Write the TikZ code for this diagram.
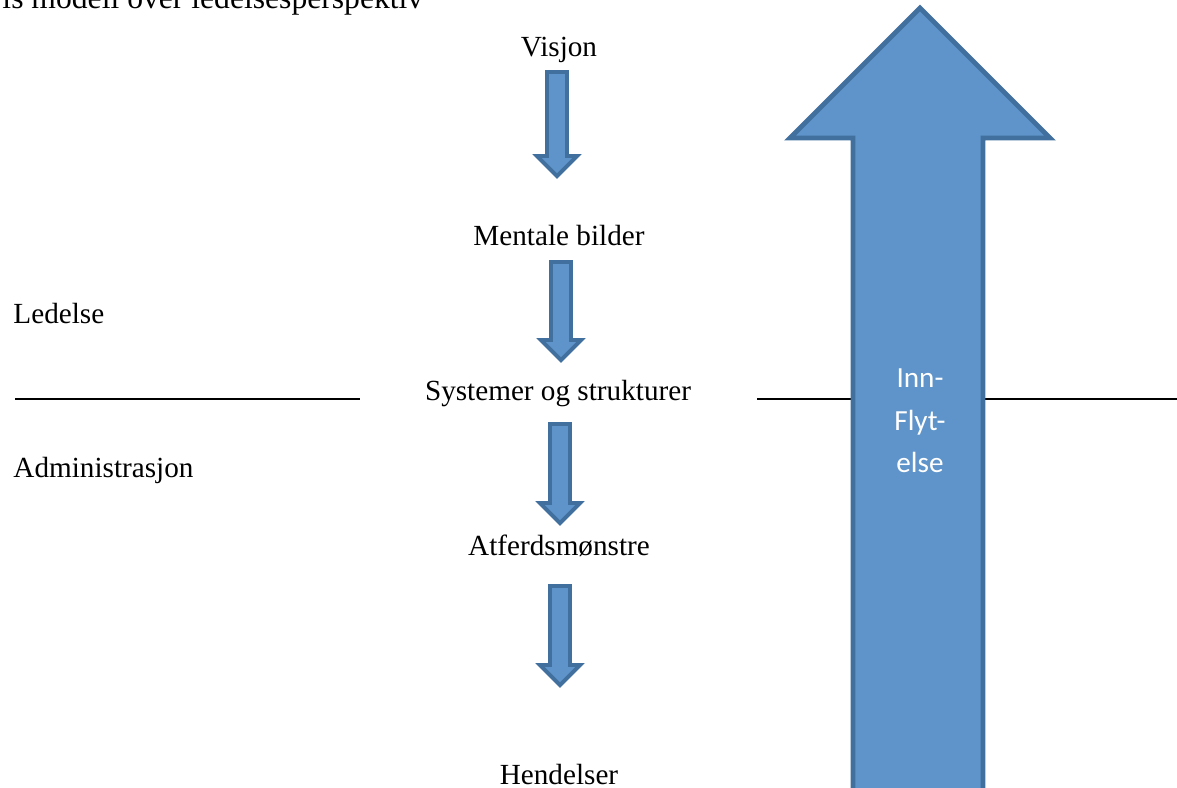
\documentclass[tikz,border=0pt]{standalone}
\usepackage{fontspec}
\setmainfont{Liberation Serif}
\newfontfamily\calfont{Carlito}
\usetikzlibrary{positioning}

\definecolor{arrowfill}{RGB}{94,148,202}
\definecolor{arrowline}{RGB}{65,112,159}

\tikzset{
  lbl/.style={font=\fontsize{12}{14}\selectfont, inner sep=0pt, anchor=base},
  blockarrow/.style={fill=arrowfill, draw=arrowline, line width=1.6pt, line join=miter},
  divider/.style={line width=0.8pt, black}
}

% block arrow pointing down: x, top, tip
\newcommand{\blockdown}[3]{%
  \draw[blockarrow] (#1-10,#2) -- (#1+10,#2) -- (#1+10,#3-20) -- (#1+20,#3-20)
        -- (#1,#3) -- (#1-20,#3-20) -- (#1-10,#3-20) -- cycle;}

\begin{document}
\begin{tikzpicture}[x=0.411pt, y=-0.411pt]
        \useasboundingbox (0,0) rectangle (1177,787);

        \coordinate (L1) at (15,399);
        \coordinate (L2) at (360,399);
        \coordinate (R1) at (757,399);
        \coordinate (R2) at (1177,399);

        \node[lbl, anchor=base west, font=\fontsize{13}{15}\selectfont] (title) at (2,8) {is modell over ledelsesperspektiv};

        \node[lbl] (visjon) at (559,56) {Visjon};
        \node[lbl] (mentale) at (559,245) {Mentale bilder};
        \node[lbl] (systemer) at (558,400) {Systemer og strukturer};
        \node[lbl] (atferd) at (559,555) {Atferdsmønstre};
        \node[lbl] (hendelser) at (559,784) {Hendelser};

        \node[lbl, anchor=base west] (ledelse) at (13,323) {Ledelse};
        \node[lbl, anchor=base west] (admin) at (13,477) {Administrasjon};

        \draw[divider] (L1) -- (L2);
        \draw[divider] (R1) -- (R2);

        \blockdown{557}{72}{176}
        \blockdown{561}{262}{360}
        \blockdown{560}{424}{523}
        \blockdown{560}{586}{685}

        % big arrow
        \draw[blockarrow, line width=2pt] (853,800) -- (853,138) -- (790,138) -- (920,8)
              -- (1050,138) -- (983,138) -- (983,800) -- cycle;
        \node[inner sep=0pt, align=center, text=white,
              font=\calfont\fontsize{12}{17.5}\selectfont] (innflytelse) at (920,421)
              {Inn-\\Flyt-\\else};

    \end{tikzpicture}
\end{document}
